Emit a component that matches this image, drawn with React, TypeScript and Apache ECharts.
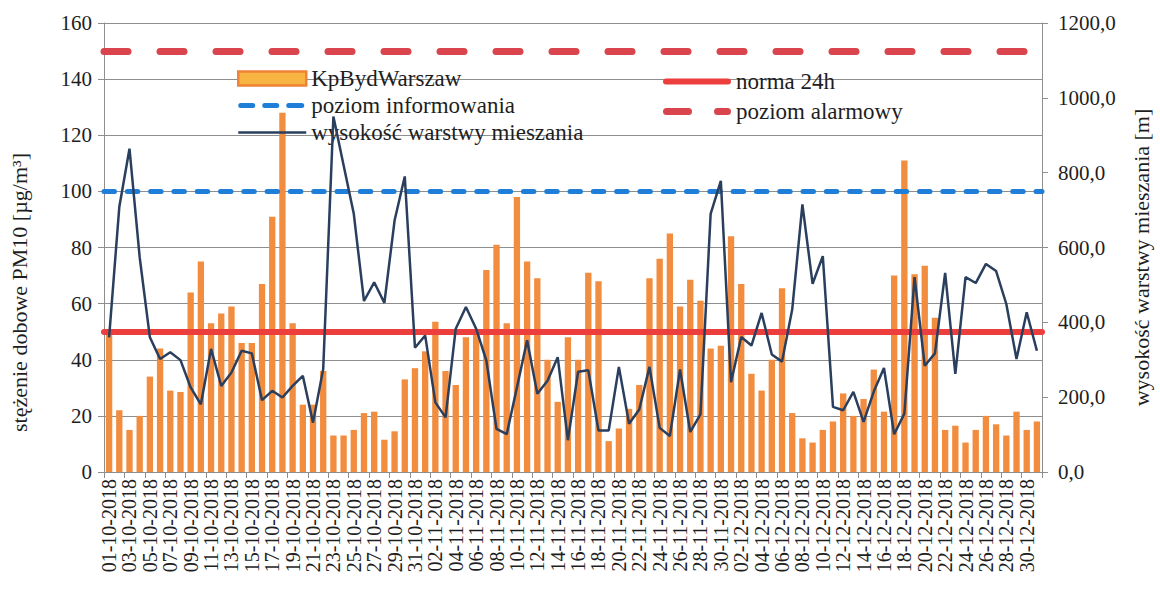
import React, { useEffect, useRef } from "react";
import * as echarts from "echarts";

const FONT = "Liberation Serif";

const categories: string[] = [
  "01-10-2018", "02-10-2018", "03-10-2018", "04-10-2018", "05-10-2018", "06-10-2018", "07-10-2018", "08-10-2018",
  "09-10-2018", "10-10-2018", "11-10-2018", "12-10-2018", "13-10-2018", "14-10-2018", "15-10-2018", "16-10-2018",
  "17-10-2018", "18-10-2018", "19-10-2018", "20-10-2018", "21-10-2018", "22-10-2018", "23-10-2018", "24-10-2018",
  "25-10-2018", "26-10-2018", "27-10-2018", "28-10-2018", "29-10-2018", "30-10-2018", "31-10-2018",
  "01-11-2018", "02-11-2018", "03-11-2018", "04-11-2018", "05-11-2018", "06-11-2018", "07-11-2018", "08-11-2018",
  "09-11-2018", "10-11-2018", "11-11-2018", "12-11-2018", "13-11-2018", "14-11-2018", "15-11-2018", "16-11-2018",
  "17-11-2018", "18-11-2018", "19-11-2018", "20-11-2018", "21-11-2018", "22-11-2018", "23-11-2018", "24-11-2018",
  "25-11-2018", "26-11-2018", "27-11-2018", "28-11-2018", "29-11-2018", "30-11-2018",
  "01-12-2018", "02-12-2018", "03-12-2018", "04-12-2018", "05-12-2018", "06-12-2018", "07-12-2018", "08-12-2018",
  "09-12-2018", "10-12-2018", "11-12-2018", "12-12-2018", "13-12-2018", "14-12-2018", "15-12-2018", "16-12-2018",
  "17-12-2018", "18-12-2018", "19-12-2018", "20-12-2018", "21-12-2018", "22-12-2018", "23-12-2018", "24-12-2018",
  "25-12-2018", "26-12-2018", "27-12-2018", "28-12-2018", "29-12-2018", "30-12-2018", "31-12-2018",
];

// stężenie dobowe PM10 [µg/m3] – KpBydWarszaw
const pm10: number[] = [
  49, 22, 15, 20, 34, 44, 29, 28.5, 64, 75,
  53, 56.5, 59, 46, 46, 67, 91, 128, 53, 24,
  24, 36, 13, 13, 15, 21, 21.5, 11.5, 14.5, 33,
  37, 43, 53.5, 36, 31, 48, 49, 72, 81, 53,
  98, 75, 69, 40, 25, 48, 40, 71, 68, 11,
  15.5, 22.5, 31, 69, 76, 85, 59, 68.5, 61, 44,
  45, 84, 67, 35, 29, 40, 65.5, 21, 12, 10.5,
  15, 18, 28, 20, 26, 36.5, 21.5, 70, 111, 70.5,
  73.5, 55, 15, 16.5, 10.5, 15, 20, 17, 13, 21.5,
  15, 18,
];

// wysokość warstwy mieszania [m]
const mixingHeight: number[] = [
  360, 708, 864, 574, 360, 302, 320, 299, 226, 181,
  329, 230, 266, 324, 317, 192, 217, 199, 230, 257,
  132, 275, 950, 820, 690, 457, 507, 452, 672, 790,
  332, 365, 186, 146, 383, 441, 383, 298, 115, 101,
  226, 352, 209, 244, 307, 85, 268, 272, 111, 111,
  281, 129, 167, 281, 118, 96, 274, 107, 154, 690,
  778, 240, 361, 338, 425, 314, 295, 434, 715, 503,
  577, 174, 165, 214, 134, 215, 278, 101, 156, 521,
  284, 317, 532, 262, 521, 505, 556, 537, 449, 302,
  427, 324,
];

const NORMA_24H = 50;
const POZIOM_INFORMOWANIA = 100;
const POZIOM_ALARMOWY = 150;

const leftTicks = { min: 0, max: 160, interval: 20 };
const rightTicks = { min: 0, max: 1200, interval: 200 };

const GRID_COLOR = "#8e8e8e";
const TEXT_COLOR = "#1e1e1e";

const C_BAR = "#f28c3e";
const C_NORMA = "#ec3f3d";
const C_INFO = "#1f7fd8";
const C_ALARM = "#d9444d";
const C_MIX = "#2a3f5e";

// legend icons (68 x 14 box, tiny corner dots keep the box size)
const BOX = "M0,0h0.01v0.01h-0.01z M67.99,13.99h0.01v0.01h-0.01z ";
const ICON_NORMA = "path://" + BOX + "M3,4 h62 a3,3 0 0 1 0,6 h-62 a3,3 0 0 1 0,-6z";
const ICON_INFO =
  "path://" + BOX +
  "M2.5,4.5 h12 a2.5,2.5 0 0 1 0,5 h-12 a2.5,2.5 0 0 1 0,-5z " +
  "M26.5,4.5 h12 a2.5,2.5 0 0 1 0,5 h-12 a2.5,2.5 0 0 1 0,-5z " +
  "M50.5,4.5 h13 a2.5,2.5 0 0 1 0,5 h-13 a2.5,2.5 0 0 1 0,-5z";
const ICON_ALARM =
  "path://" + BOX +
  "M3.5,3.5 h22 a3.5,3.5 0 0 1 0,7 h-22 a3.5,3.5 0 0 1 0,-7z " +
  "M54.5,3.5 h10 a3.5,3.5 0 0 1 0,7 h-10 a3.5,3.5 0 0 1 0,-7z";
const ICON_MIX = "path://" + BOX + "M0,5.7 h68 v2.6 h-68z";

export default function App() {
  const ref = useRef<HTMLDivElement>(null);

  useEffect(() => {
    document.body.style.margin = "0";
    const chart = echarts.init(ref.current as HTMLDivElement, null, { renderer: "svg" });

    const refLine = (name: string, value: number, color: string, width: number, type: any) => ({
      name,
      type: "line",
      data: [],
      symbol: "none",
      color,
      lineStyle: { color, width, type, cap: "round" },
      markLine: {
        silent: true,
        symbol: ["none", "none"],
        label: { show: false },
        lineStyle: { color, width, type, cap: "round" },
        data: [{ yAxis: value }],
      },
    });

    const legendText = { fontFamily: FONT, fontSize: 23, color: TEXT_COLOR, lineHeight: 20 };

    const option: any = {
      animation: false,
      backgroundColor: "#ffffff",
      textStyle: { fontFamily: FONT, color: TEXT_COLOR },
      grid: { left: 99, right: 111, top: 23, bottom: 132, containLabel: false },
      legend: [
        {
          left: 237,
          top: 67,
          padding: 0,
          orient: "vertical",
          itemWidth: 68,
          itemHeight: 14,
          itemGap: 4,
          selectedMode: false,
          textStyle: legendText,
          data: [
            {
              name: "KpBydWarszaw",
              icon: "rect",
              itemStyle: { color: "#f7b443", borderColor: "#ef8236", borderWidth: 2.5 },
            },
            { name: "poziom informowania", icon: ICON_INFO, itemStyle: { color: C_INFO } },
            { name: "wysokość warstwy mieszania", icon: ICON_MIX, itemStyle: { color: C_MIX } },
          ],
        },
        {
          left: 663,
          top: 70,
          padding: 0,
          orient: "vertical",
          itemWidth: 68,
          itemHeight: 14,
          itemGap: 7,
          selectedMode: false,
          textStyle: legendText,
          data: [
            { name: "norma 24h", icon: ICON_NORMA, itemStyle: { color: C_NORMA } },
            { name: "poziom alarmowy", icon: ICON_ALARM, itemStyle: { color: C_ALARM } },
          ],
        },
      ],
      xAxis: {
        type: "category",
        data: categories,
        boundaryGap: true,
        axisLine: { show: true, lineStyle: { color: GRID_COLOR, width: 1 } },
        axisTick: { show: true, interval: 1, length: 6, lineStyle: { color: GRID_COLOR } },
        axisLabel: {
          interval: 1,
          rotate: 90,
          fontFamily: FONT,
          fontSize: 20,
          color: TEXT_COLOR,
          margin: 7,
        },
      },
      yAxis: [
        {
          type: "value",
          position: "left",
          min: leftTicks.min,
          max: leftTicks.max,
          interval: leftTicks.interval,
          name: "stężenie dobowe PM10 [µg/m³]",
          nameLocation: "middle",
          nameRotate: 90,
          nameGap: 74,
          nameTextStyle: { fontFamily: FONT, fontSize: 22, color: TEXT_COLOR, padding: [0, 90, 0, 0] },
          axisLine: { show: true, lineStyle: { color: GRID_COLOR, width: 1 } },
          axisTick: { show: true, length: 6, lineStyle: { color: GRID_COLOR } },
          axisLabel: { fontFamily: FONT, fontSize: 21, color: TEXT_COLOR, margin: 12 },
          splitLine: { show: true, lineStyle: { color: GRID_COLOR, width: 1 } },
        },
        {
          type: "value",
          position: "right",
          min: rightTicks.min,
          max: rightTicks.max,
          interval: rightTicks.interval,
          name: "wysokość warstwy mieszania [m]",
          nameLocation: "middle",
          nameRotate: 90,
          nameGap: 88,
          nameTextStyle: { fontFamily: FONT, fontSize: 22, color: TEXT_COLOR, padding: [0, 20, 0, 0] },
          axisLine: { show: true, lineStyle: { color: GRID_COLOR, width: 1 } },
          axisTick: { show: true, length: 6, lineStyle: { color: GRID_COLOR } },
          axisLabel: {
            fontFamily: FONT,
            fontSize: 21,
            color: TEXT_COLOR,
            margin: 16,
            formatter: (v: number) => v.toFixed(1).replace(".", ","),
          },
          splitLine: { show: false },
        },
      ],
      series: [
        {
          name: "KpBydWarszaw",
          type: "bar",
          data: pm10,
          barWidth: "62%",
          itemStyle: { color: C_BAR },
        },
        refLine("norma 24h", NORMA_24H, C_NORMA, 6, "solid"),
        refLine("poziom informowania", POZIOM_INFORMOWANIA, C_INFO, 5, [10.5, 12.8]),
        refLine("poziom alarmowy", POZIOM_ALARMOWY, C_ALARM, 7, [24, 32]),
        {
          name: "wysokość warstwy mieszania",
          type: "line",
          yAxisIndex: 1,
          data: mixingHeight,
          symbol: "none",
          color: C_MIX,
          lineStyle: { color: C_MIX, width: 2.5 },
          z: 5,
        },
      ],
    };

    chart.setOption(option);
    return () => chart.dispose();
  }, []);

  return <div ref={ref} style={{ width: 1160, height: 604, background: "#ffffff" }} />;
}
